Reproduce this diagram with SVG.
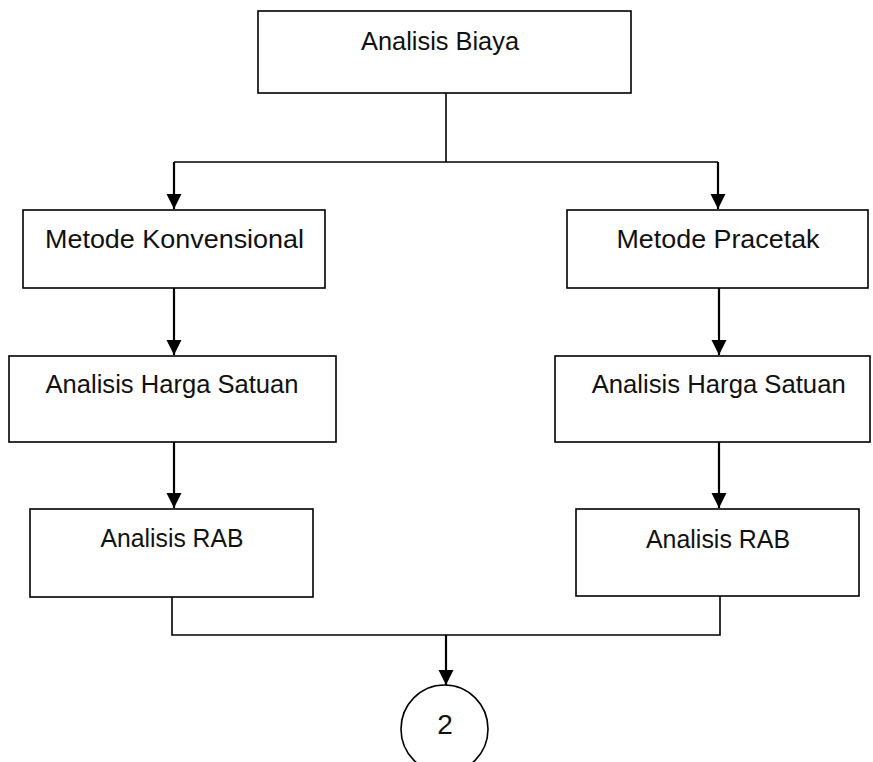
<svg xmlns="http://www.w3.org/2000/svg" width="873" height="762" viewBox="0 0 873 762">
<style>
.box{fill:#fff;stroke:#000;stroke-width:1.6}
.lbl{font-family:"Liberation Sans",Arial,sans-serif;font-size:26px;fill:#111;text-anchor:middle}
.ln{fill:none;stroke:#000;stroke-width:1.6}
.ar{fill:none;stroke:#000;stroke-width:2.2}
</style>
<defs>
<marker id="ah" markerUnits="userSpaceOnUse" markerWidth="16" markerHeight="18" refX="15" refY="7.5" orient="auto">
<path d="M0,0 L15,7.5 L0,15 Z" fill="#000"/>
</marker>
</defs>
<rect width="873" height="762" fill="#fff"/>
<g id="connectors">
<path class="ln" d="M446,93 V162"/>
<path class="ln" d="M174,162 H718"/>
<path class="ar" d="M174,162 V209" marker-end="url(#ah)"/>
<path class="ar" d="M718,162 V209" marker-end="url(#ah)"/>
<path class="ar" d="M174,288 V355" marker-end="url(#ah)"/>
<path class="ar" d="M719,288 V355" marker-end="url(#ah)"/>
<path class="ar" d="M174,442 V508" marker-end="url(#ah)"/>
<path class="ar" d="M719,442 V508" marker-end="url(#ah)"/>
<path class="ln" d="M172,597 V635 H720 V596"/>
<path class="ar" d="M446,635 V685" marker-end="url(#ah)"/>
</g>
<g id="n-biaya">
<rect class="box" x="258" y="11" width="373" height="82"/>
<text class="lbl" x="440" y="50" textLength="158" lengthAdjust="spacingAndGlyphs">Analisis Biaya</text>
</g>
<g id="n-konv">
<rect class="box" x="23" y="210" width="302" height="78"/>
<text class="lbl" x="174.5" y="248" textLength="259" lengthAdjust="spacingAndGlyphs">Metode Konvensional</text>
</g>
<g id="n-prac">
<rect class="box" x="567" y="210" width="301" height="78"/>
<text class="lbl" x="718" y="248" textLength="203" lengthAdjust="spacingAndGlyphs">Metode Pracetak</text>
</g>
<g id="n-ahs-l">
<rect class="box" x="9" y="356" width="327" height="86"/>
<text class="lbl" x="172" y="393" textLength="253" lengthAdjust="spacingAndGlyphs">Analisis Harga Satuan</text>
</g>
<g id="n-ahs-r">
<rect class="box" x="555" y="356" width="315" height="86"/>
<text class="lbl" x="718.7" y="393" textLength="254" lengthAdjust="spacingAndGlyphs">Analisis Harga Satuan</text>
</g>
<g id="n-rab-l">
<rect class="box" x="30" y="509" width="283" height="88"/>
<text class="lbl" x="172" y="547" textLength="143" lengthAdjust="spacingAndGlyphs">Analisis RAB</text>
</g>
<g id="n-rab-r">
<rect class="box" x="576" y="509" width="283" height="87"/>
<text class="lbl" x="718" y="548" textLength="144" lengthAdjust="spacingAndGlyphs">Analisis RAB</text>
</g>
<g id="n-2">
<ellipse class="box" cx="444.5" cy="729" rx="43.5" ry="44"/>
<text class="lbl" x="445" y="734" style="font-size:28px">2</text>
</g>
</svg>
